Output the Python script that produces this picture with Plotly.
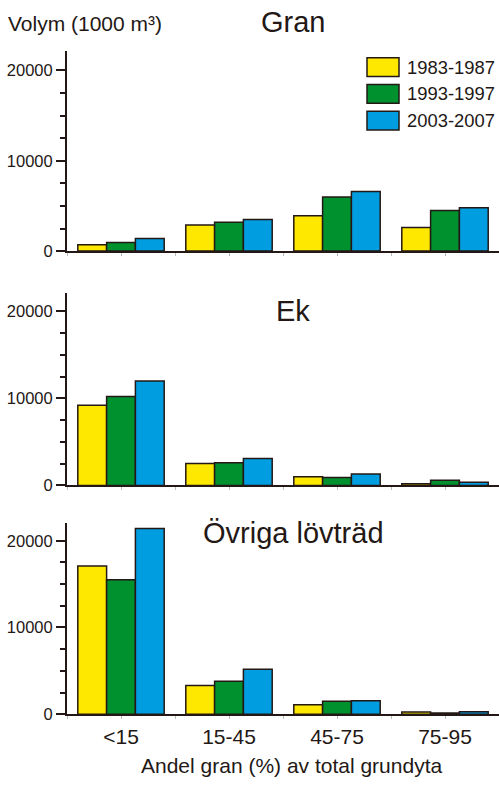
import plotly.graph_objects as go

categories = ["<15", "15-45", "45-75", "75-95"]
periods = ["1983-1987", "1993-1997", "2003-2007"]
colors = ["#FFE800", "#00912F", "#009DE0"]

gran = {
    "1983-1987": [700, 2900, 3900, 2600],
    "1993-1997": [950, 3200, 6000, 4500],
    "2003-2007": [1400, 3500, 6600, 4800],
}
ek = {
    "1983-1987": [9200, 2500, 1000, 200],
    "1993-1997": [10200, 2600, 900, 600],
    "2003-2007": [12000, 3100, 1300, 350],
}
ovriga = {
    "1983-1987": [17100, 3300, 1100, 250],
    "1993-1997": [15500, 3800, 1500, 150],
    "2003-2007": [21400, 5200, 1550, 300],
}
panel_titles = ["Gran", "Ek", "Övriga lövträd"]
y_ticks = [0, 10000, 20000]
y_ticktext = ["0", "10000", "20000"]
y_label = "Volym (1000 m³)"
x_label = "Andel gran (%) av total grundyta"

W, H = 499, 787
INK = "#231815"
FONT = "Liberation Sans, Arial, Helvetica, sans-serif"

def px(x):
    return x / W

def py(y):
    return 1 - y / H

# pixel extents (top, bottom) of each panel
panels_px = [(52, 254), (296, 491), (529, 722.5)]
ranges = [22100, 22150, 22050]

fig = go.Figure()
xpos = list(range(len(categories)))

for i, data in enumerate([gran, ek, ovriga]):
    n = "" if i == 0 else str(i + 1)
    for p, c in zip(periods, colors):
        fig.add_trace(go.Bar(
            x=xpos, y=data[p], name=p, marker=dict(color=c, line=dict(color=INK, width=1.5)),
            xaxis="x" + n, yaxis="y" + n, showlegend=False, offsetgroup=p,
        ))
    top, bot = panels_px[i]
    fig.layout["xaxis" + n] = dict(
        domain=[px(67), 1], anchor="y" + n, range=[-0.5, 3.5],
        showline=True, linecolor=INK, linewidth=2, showgrid=False, zeroline=False,
        tickvals=xpos, ticktext=categories if i == 2 else [""] * 4,
        ticks="outside", ticklen=3, tickcolor="#bbbbbb", tickwidth=1,
        minor=dict(dtick=0.5, tick0=0.5, ticks="outside", ticklen=3, tickcolor="#bbbbbb", tickwidth=1),
        tickfont=dict(size=21, color=INK, family=FONT),
    )
    fig.layout["yaxis" + n] = dict(
        domain=[py(bot), py(top)], anchor="x" + n, range=[0, ranges[i]],
        showline=True, linecolor=INK, linewidth=2, showgrid=False, zeroline=False,
        tickvals=y_ticks, ticktext=y_ticktext, ticks="outside", ticklen=9, tickwidth=2, tickcolor=INK,
        minor=dict(dtick=2500, tick0=0, ticks="outside", ticklen=5, tickwidth=2, tickcolor=INK),
        tickfont=dict(size=16.5, color=INK, family=FONT),
    )

annotations = []
title_y = [22, 315, 539]
for t, yy in zip(panel_titles, title_y):
    annotations.append(dict(text=t, x=px(293), y=py(yy), xref="paper", yref="paper",
                            xanchor="center", yanchor="middle", showarrow=False,
                            font=dict(size=29, color=INK, family=FONT)))
annotations.append(dict(text=y_label, x=px(6), y=py(24), xref="paper", yref="paper",
                        xanchor="left", yanchor="middle", showarrow=False,
                        font=dict(size=21, color=INK, family=FONT)))
annotations.append(dict(text=x_label, x=px(291), y=py(774), xref="paper", yref="paper",
                        xanchor="center", yanchor="middle", showarrow=False,
                        font=dict(size=21, color=INK, family=FONT)))

shapes = []
leg_y = [68, 95, 122]
for p, c, yy in zip(periods, colors, leg_y):
    shapes.append(dict(type="rect", xref="paper", yref="paper",
                       x0=px(367), x1=px(399), y0=py(yy + 9.5), y1=py(yy - 9.5),
                       fillcolor=c, line=dict(color=INK, width=1.5)))
    annotations.append(dict(text=p, x=px(405), y=py(yy), xref="paper", yref="paper",
                            xanchor="left", yanchor="middle", showarrow=False,
                            font=dict(size=18.4, color=INK, family=FONT)))

fig.update_layout(
    width=W, height=H, margin=dict(l=0, r=0, t=0, b=0),
    paper_bgcolor="white", plot_bgcolor="white",
    barmode="group", bargap=0.2, bargroupgap=0,
    annotations=annotations, shapes=shapes, showlegend=False,
    font=dict(family=FONT, color=INK),
)
post = (
    "document.documentElement.style.margin='0';"
    "document.documentElement.style.padding='0';"
    "document.documentElement.style.overflow='hidden';"
    "document.body.style.margin='0';"
    "document.body.style.padding='0';"
    "document.body.style.overflow='hidden';"
)
fig.write_html("out.html", config={"displayModeBar": False}, post_script=post)
